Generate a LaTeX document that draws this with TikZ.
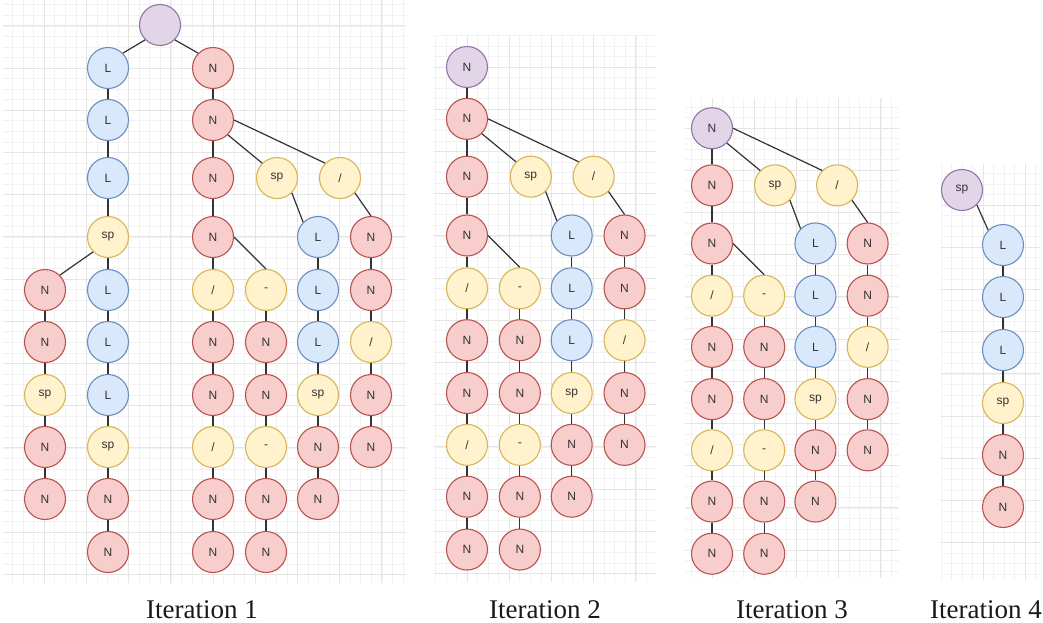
\documentclass[tikz,border=0pt]{standalone}
\usepackage{fontspec}
\setmainfont{Liberation Serif}
\newfontfamily\labelfont{Liberation Sans}

\definecolor{redF}{HTML}{F8CECC}\definecolor{redD}{HTML}{B85450}
\definecolor{bluF}{HTML}{DAE8FC}\definecolor{bluD}{HTML}{6C8EBF}
\definecolor{yelF}{HTML}{FFF2CC}\definecolor{yelD}{HTML}{D6B656}
\definecolor{purF}{HTML}{E1D5E7}\definecolor{purD}{HTML}{9673A6}
\definecolor{inkC}{HTML}{333333}

\tikzset{
  tn/.style={circle, line width=1.1pt, minimum size=41pt, inner sep=0pt,
             font=\labelfont\fontsize{12}{14}\selectfont, text=inkC},
  nr/.style={tn, fill=redF, draw=redD},
  nb/.style={tn, fill=bluF, draw=bluD},
  ny/.style={tn, fill=yelF, draw=yelD},
  np/.style={tn, fill=purF, draw=purD},
  link/.style={draw=inkC, line width=1.2pt},
  gminor/.style={draw=black!5, line width=0.6pt},
  gmajor/.style={draw=black!10, line width=0.8pt},
  caption/.style={anchor=base, font=\fontsize{27}{30}\selectfont, text=black!90},
}

% faint grid panel: #1,#2 top-left  #3,#4 bottom-right  #5,#6 grid alignment point
\newcommand{\gridpanel}[6]{%
  \begin{scope}
    \clip (#1,#2) rectangle (#3,#4);
    \foreach \k in {-60,...,60} {
      \draw[gminor] ({#5+\k*10.55},#2) -- ({#5+\k*10.55},#4);
      \draw[gminor] (#1,{#6+\k*10.55}) -- (#3,{#6+\k*10.55});
    }
    \foreach \k in {-15,...,15} {
      \draw[gmajor] ({#5+\k*42.2},#2) -- ({#5+\k*42.2},#4);
      \draw[gmajor] (#1,{#6+\k*42.2}) -- (#3,{#6+\k*42.2});
    }
  \end{scope}}

% N-rooted subtree: #1 name prefix, #2,#3 origin, #4 style of its top node, #5 spacing scale
\newcommand{\subtreeN}[5]{%
  \begin{scope}[shift={(#2,#3)}, scale=#5]
    \node[#4] (#1a1) at (0,52)  {N};
    \node[nr] (#1a2) at (0,110) {N};
    \node[ny] (#1b)  at (64,110) {sp};
    \node[ny] (#1c)  at (127,110) {/};
    \node[nr] (#1a3) at (0,169) {N};
    \node[ny] (#1a4) at (0,222) {/};
    \node[nr] (#1a5) at (0,274) {N};
    \node[nr] (#1a6) at (0,327) {N};
    \node[ny] (#1a7) at (0,379) {/};
    \node[nr] (#1a8) at (0,431) {N};
    \node[nr] (#1a9) at (0,484) {N};
    \node[ny] (#1d0) at (53,222) {-};
    \node[nr] (#1d1) at (53,274) {N};
    \node[nr] (#1d2) at (53,327) {N};
    \node[ny] (#1d3) at (53,379) {-};
    \node[nr] (#1d4) at (53,431) {N};
    \node[nr] (#1d5) at (53,484) {N};
    \node[nb] (#1e0) at (105,169) {L};
    \node[nb] (#1e1) at (105,222) {L};
    \node[nb] (#1e2) at (105,274) {L};
    \node[ny] (#1e3) at (105,327) {sp};
    \node[nr] (#1e4) at (105,379) {N};
    \node[nr] (#1e5) at (105,431) {N};
    \node[nr] (#1f0) at (158,169) {N};
    \node[nr] (#1f1) at (158,222) {N};
    \node[ny] (#1f2) at (158,274) {/};
    \node[nr] (#1f3) at (158,327) {N};
    \node[nr] (#1f4) at (158,379) {N};
  \end{scope}
  \draw[link] (#1a1.south east) -- (#1b.north west);
  \draw[link] (#1a1.east) -- (#1c.north west);
  \draw[link] (#1a3.east) -- (#1d0.north);
  \draw[link] (#1b.south east) -- (#1e0.north west);
  \draw[link] (#1c.south east) -- (#1f0.north);
  \draw[link] (#1a1) -- (#1a2) -- (#1a3) -- (#1a4) -- (#1a5) -- (#1a6) -- (#1a7) -- (#1a8) -- (#1a9);
  \draw[link] (#1d0) -- (#1d1) -- (#1d2) -- (#1d3) -- (#1d4) -- (#1d5);
  \draw[link] (#1e0) -- (#1e1) -- (#1e2) -- (#1e3) -- (#1e4) -- (#1e5);
  \draw[link] (#1f0) -- (#1f1) -- (#1f2) -- (#1f3) -- (#1f4);
}

\begin{document}
\begin{tikzpicture}[x=1pt, y=-1pt]
  \useasboundingbox[fill=white] (0,0) rectangle (1043,622);

  % background grids
  \gridpanel{3}{0}{406}{583}{213}{68}
  \gridpanel{434}{35}{656}{582}{467}{67}
  \gridpanel{685}{98}{899}{578}{712}{128}
  \gridpanel{941}{164}{1040}{580}{983}{205}

  % ---- Iteration 1 ----
  \node[np] (root) at (160,25) {};
  \node[nb] (l1) at (108,68)  {L};
  \node[nb] (l2) at (108,120) {L};
  \node[nb] (l3) at (108,178) {L};
  \node[ny] (s1) at (108,237) {sp};
  \node[nb] (l4) at (108,290) {L};
  \node[nb] (l5) at (108,342) {L};
  \node[nb] (l6) at (108,395) {L};
  \node[ny] (s2) at (108,447) {sp};
  \node[nr] (n1) at (108,499) {N};
  \node[nr] (n2) at (108,552) {N};
  \node[nr] (m1) at (45,290) {N};
  \node[nr] (m2) at (45,342) {N};
  \node[ny] (m3) at (45,395) {sp};
  \node[nr] (m4) at (45,447) {N};
  \node[nr] (m5) at (45,499) {N};
  \node[nr] (pa0) at (213,68) {N};
  \subtreeN{p}{213}{68}{nr}{1}
  \draw[link] (root.south west) -- (l1.north east);
  \draw[link] (root.south east) -- (pa0.north west);
  \draw[link] (pa0) -- (pa1);
  \draw[link] (l1) -- (l2) -- (l3) -- (s1) -- (l4) -- (l5) -- (l6) -- (s2) -- (n1) -- (n2);
  \draw[link] (s1.south west) -- (m1.north east);
  \draw[link] (m1) -- (m2) -- (m3) -- (m4) -- (m5);

  % ---- Iteration 2 ----
  \node[np] (qa0) at (467,67) {N};
  \subtreeN{q}{467}{67}{nr}{0.997}
  \draw[link] (qa0) -- (qa1);

  % ---- Iteration 3 ----
  \subtreeN{r}{712}{77}{np}{0.985}

  % ---- Iteration 4 ----
  \node[np] (t0) at (962,190) {sp};
  \node[nb] (t1) at (1003,245) {L};
  \node[nb] (t2) at (1003,297) {L};
  \node[nb] (t3) at (1003,350) {L};
  \node[ny] (t4) at (1003,403) {sp};
  \node[nr] (t5) at (1003,455) {N};
  \node[nr] (t6) at (1003,507) {N};
  \draw[link] (t0.south east) -- (t1.north west);
  \draw[link] (t1) -- (t2) -- (t3) -- (t4) -- (t5) -- (t6);

  % captions
  \node[caption] (c1) at (202,618) {Iteration 1};
  \node[caption] (c2) at (545,618) {Iteration 2};
  \node[caption] (c3) at (792,618) {Iteration 3};
  \node[caption] (c4) at (986,618) {Iteration 4};
\end{tikzpicture}
\end{document}
